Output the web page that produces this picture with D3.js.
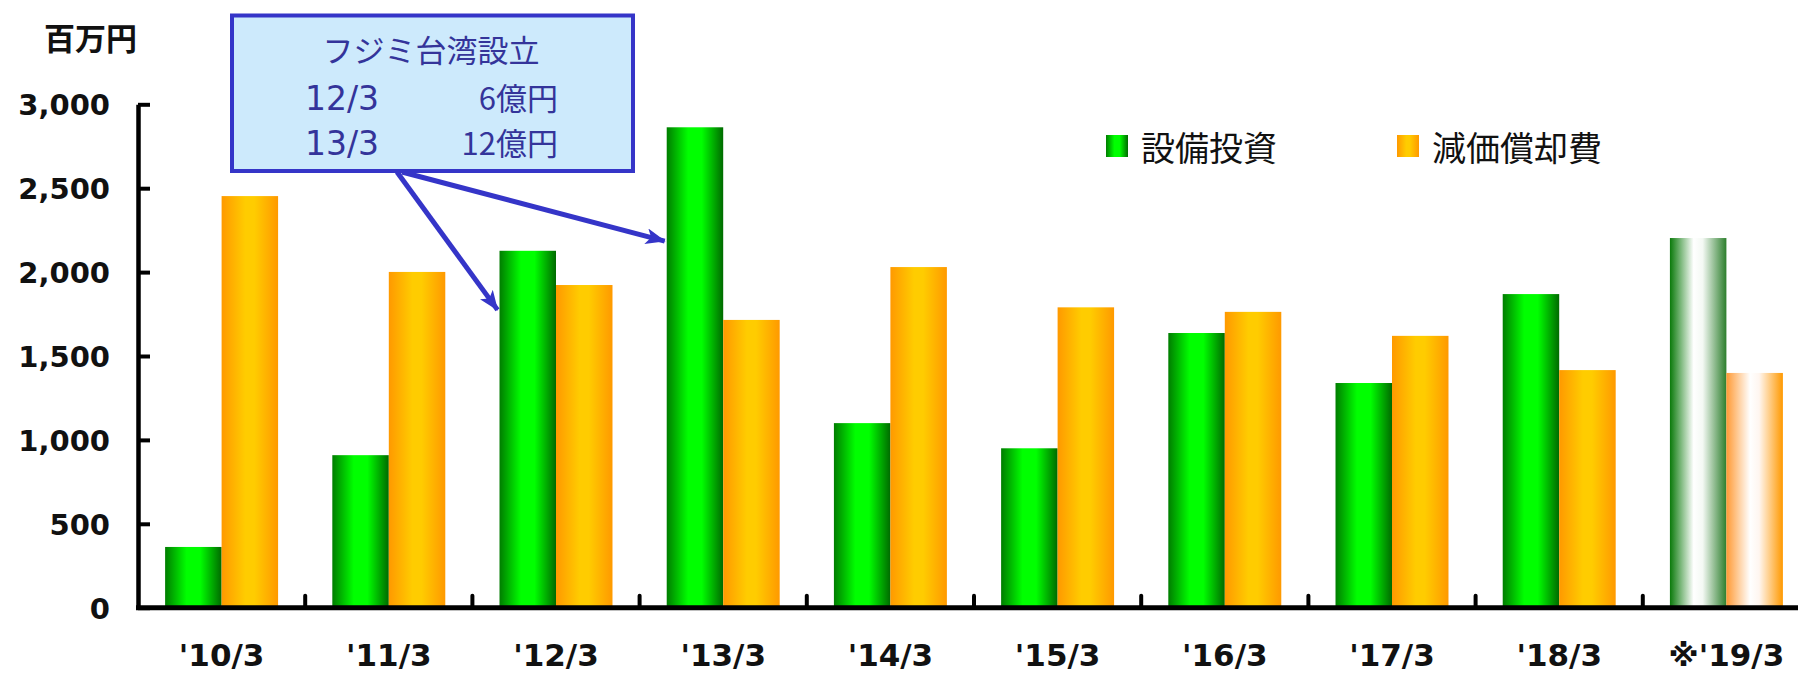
<!DOCTYPE html>
<html lang="ja">
<head>
<meta charset="utf-8">
<script src="https://cdn.jsdelivr.net/npm/d3@7"></script>
<style>
  html, body { margin: 0; padding: 0; background: #fff; }
  svg { display: block; }
</style>
</head>
<body>
<svg id="chart" width="1798" height="673"></svg>
<script>
// Fiscal-year categories (year ending March); the last one is a plan figure
const categories = ["'10/3", "'11/3", "'12/3", "'13/3", "'14/3", "'15/3", "'16/3", "'17/3", "'18/3", "※'19/3"];
// 設備投資 (capital expenditure), 百万円
const capex = [362, 909, 2127, 2863, 1100, 950, 1637, 1339, 1869, 2203];
// 減価償却費 (depreciation), 百万円
const depreciation = [2453, 2001, 1923, 1715, 2030, 1790, 1763, 1620, 1416, 1399];
const seriesNames = ["設備投資", "減価償却費"];
const yTicks = [0, 500, 1000, 1500, 2000, 2500, 3000];
const planCategory = "※'19/3";

const svg = d3.select("#chart");
const defs = svg.append("defs");

// Horizontal shading used for the bars and the legend swatches
function gradient(id, stops) {
  const g = defs.append("linearGradient").attr("id", id)
    .attr("x1", "0%").attr("x2", "100%").attr("y1", "0%").attr("y2", "0%");
  stops.forEach(([o, c]) => g.append("stop").attr("offset", o).attr("stop-color", c));
}
gradient("gGreen", [["0%", "#007d00"], ["38%", "#00ff00"], ["62%", "#00ff00"], ["100%", "#006a00"]]);
gradient("gOrange", [["0%", "#ff9900"], ["42%", "#ffcc00"], ["58%", "#ffcc00"], ["100%", "#ff9900"]]);
gradient("gGreenPlan", [["0%", "#0a7a0a"], ["42%", "#ffffff"], ["58%", "#f4f9f4"], ["100%", "#2d7f2d"]]);
gradient("gOrangePlan", [["0%", "#ff9a35"], ["42%", "#ffffff"], ["58%", "#fff6f0"], ["100%", "#ff9900"]]);

const axisLeftX = 138;
const baseY = 607.7;
const topY = 104.3;

const y = d3.scaleLinear().domain([0, 3000]).range([baseY, topY]);
const x0 = d3.scaleBand().domain(categories).range([axisLeftX, 1810]).padding(0);
const x1 = d3.scaleBand().domain(seriesNames).range([0, x0.bandwidth()]).paddingInner(0).paddingOuter(0.48);

const rows = categories.map((c, i) => ({ cat: c, values: [capex[i], depreciation[i]] }));

// Bars
const groups = svg.append("g").selectAll("g").data(rows).join("g")
  .attr("transform", d => `translate(${x0(d.cat)},0)`);
groups.selectAll("rect")
  .data(d => d.values.map((v, k) => ({ cat: d.cat, key: seriesNames[k], k, v })))
  .join("rect")
  .attr("x", d => x1(d.key))
  .attr("width", x1.bandwidth())
  .attr("y", d => y(d.v))
  .attr("height", d => y(0) - y(d.v))
  .attr("fill", d => {
    const plan = d.cat === planCategory;
    if (d.k === 0) return plan ? "url(#gGreenPlan)" : "url(#gGreen)";
    return plan ? "url(#gOrangePlan)" : "url(#gOrange)";
  });

// Y axis: ticks pointing inward, bold numeric labels
const yAxis = d3.axisLeft(y).tickValues(yTicks).tickFormat(d3.format(",")).tickSize(-12).tickSizeOuter(0).tickPadding(28);
const gy = svg.append("g").attr("transform", `translate(${axisLeftX},0)`).call(yAxis);
gy.select(".domain").attr("stroke", "#000").attr("stroke-width", 4.5);
gy.selectAll(".tick line").attr("stroke", "#000").attr("stroke-width", 4);
gy.selectAll(".tick text")
  .attr("fill", "#111")
  .style("font-family", "'DejaVu Sans', Verdana, sans-serif")
  .style("font-weight", "bold")
  .style("font-size", "29px")
  .attr("dy", "0.36em");

// X axis: category labels centred, tick marks on category boundaries
const xAxis = d3.axisBottom(x0).tickSize(0).tickPadding(36).tickSizeOuter(0);
const gx = svg.append("g").attr("transform", `translate(0,${baseY})`).call(xAxis);
gx.select(".domain").remove();
gx.selectAll(".tick text")
  .attr("fill", "#111")
  .style("font-family", "'DejaVu Sans', Verdana, sans-serif")
  .style("font-weight", "bold")
  .style("font-size", "31px");

svg.append("g").selectAll("line").data(categories.slice(1)).join("line")
  .attr("x1", d => x0(d)).attr("x2", d => x0(d))
  .attr("y1", baseY).attr("y2", baseY - 12)
  .attr("stroke", "#000").attr("stroke-width", 4).attr("stroke-linecap", "round");
svg.append("line")
  .attr("x1", axisLeftX - 2).attr("x2", 1798)
  .attr("y1", baseY).attr("y2", baseY)
  .attr("stroke", "#000").attr("stroke-width", 5);

// Unit label
svg.append("text").text("百万円")
  .attr("x", 44).attr("y", 36)
  .attr("dominant-baseline", "central")
  .style("font-family", "'Noto Sans CJK JP', sans-serif")
  .style("font-weight", "bold")
  .style("font-size", "31px")
  .attr("fill", "#111");

// Legend
const legend = [
  { name: seriesNames[0], fill: "url(#gGreen)", x: 1106 },
  { name: seriesNames[1], fill: "url(#gOrange)", x: 1397 }
];
const lg = svg.append("g").selectAll("g").data(legend).join("g")
  .attr("transform", d => `translate(${d.x},135)`);
lg.append("rect").attr("width", 22).attr("height", 22).attr("fill", d => d.fill);
lg.append("text").text(d => d.name)
  .attr("x", 35).attr("y", 11)
  .attr("dominant-baseline", "central")
  .style("font-family", "'Noto Sans CJK JP', sans-serif")
  .style("font-size", "34px")
  .attr("fill", "#111");

// Callout about the Taiwan subsidiary, with arrows to the two capex bars
const callout = svg.append("g");
const ink = "#3535c8";
defs.append("marker").attr("id", "arrowHead")
  .attr("markerUnits", "userSpaceOnUse")
  .attr("viewBox", "0 0 20 16").attr("refX", 19).attr("refY", 8)
  .attr("markerWidth", 20).attr("markerHeight", 16).attr("orient", "auto")
  .append("path").attr("d", "M0,0 L20,8 L0,16 L5,8 Z").attr("fill", ink);

const arrowTargets = [
  { cat: "'12/3", v: 1775, from: [397, 172] },
  { cat: "'13/3", v: 2185, from: [402, 172] }
];
callout.selectAll("line").data(arrowTargets).join("line")
  .attr("x1", d => d.from[0]).attr("y1", d => d.from[1])
  .attr("x2", d => x0(d.cat) + x1(seriesNames[0]) - 2)
  .attr("y2", d => y(d.v))
  .attr("stroke", ink).attr("stroke-width", 5)
  .attr("marker-end", "url(#arrowHead)");

callout.append("rect")
  .attr("x", 232).attr("y", 15.5).attr("width", 401).attr("height", 155.5)
  .attr("fill", "#cdeafc").attr("stroke", ink).attr("stroke-width", 4);

// Callout text as one block: title line, then period / amount rows
const invest = [["12/3", "6億円"], ["13/3", "12億円"]];
const block = callout.append("text")
  .style("font-family", "'Noto Sans CJK JP', sans-serif")
  .attr("fill", "#34349a")
  .attr("dominant-baseline", "central");
block.append("tspan").text("フジミ台湾設立")
  .attr("x", 431).attr("y", 48).attr("text-anchor", "middle").style("font-size", "31px");
invest.forEach(([period, amount], i) => {
  block.append("tspan").text(period)
    .attr("x", 305).attr("y", 98 + i * 45).attr("text-anchor", "start")
    .style("font-family", "'DejaVu Sans', sans-serif").style("font-size", "33px");
  block.append("tspan").text(amount)
    .attr("x", 558).attr("y", 96 + i * 45).attr("text-anchor", "end").style("font-size", "31px");
});
</script>
</body>
</html>
